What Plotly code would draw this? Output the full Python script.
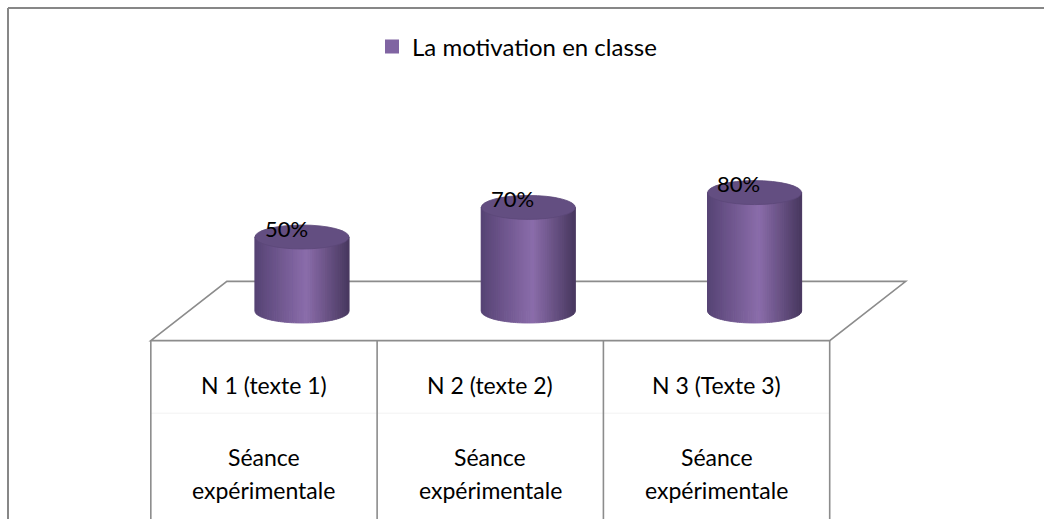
import numpy as np
import plotly.graph_objects as go

# ---------------- data ----------------
categories_line1 = ["N 1 (texte 1)", "N 2 (texte 2)", "N 3 (Texte 3)"]
categories_line2 = ["Séance", "Séance", "Séance"]
categories_line3 = ["expérimentale", "expérimentale", "expérimentale"]
values = [50, 70, 80]
labels = ["50%", "70%", "80%"]
series_name = "La motivation en classe"

# ---------------- style ----------------
FONT = "Lato, Carlito, Calibri, sans-serif"
GRID = "#8c8c8c"
HALF_W = 0.208      # cylinder half width (x units)
ELL_H = 8.1         # ellipse half height (y units)
DEPTH_X = 0.168     # perspective shift of floor front/back edges
DEPTH_Y = 20.0
N_STRIPS = 44

def shade(t):
    stops = [(0.0, (86, 67, 116)), (0.55, (139, 109, 171)), (1.0, (72, 56, 95))]
    for (t0, c0), (t1, c1) in zip(stops[:-1], stops[1:]):
        if t <= t1:
            f = (t - t0) / (t1 - t0)
            return "rgb(%d,%d,%d)" % tuple(round(a + (b - a) * f) for a, b in zip(c0, c1))
    return "rgb(%d,%d,%d)" % stops[-1][1]

fig = go.Figure()
n = len(values)
xs = list(range(n))

fig.add_trace(go.Bar(
    x=xs, y=values, width=2 * HALF_W, name=series_name,
    marker=dict(color="#8064A2", line=dict(width=0)),
    hoverinfo="skip", showlegend=False,
))
# legend entry (square swatch)
fig.add_trace(go.Scatter(
    x=[None], y=[None], mode="markers", name=series_name,
    marker=dict(symbol="square", size=14, color="#8064A2"),
    showlegend=True,
))

shapes = []
# floor parallelogram
fx0, fx1 = -0.5, n - 0.5
floor_path = (f"M {fx0 - DEPTH_X} {-DEPTH_Y} L {fx0 + DEPTH_X} {DEPTH_Y} "
              f"L {fx1 + DEPTH_X} {DEPTH_Y} L {fx1 - DEPTH_X} {-DEPTH_Y} Z")
shapes.append(dict(type="path", xref="x", yref="y", path=floor_path,
                   line=dict(color=GRID, width=1.6), fillcolor="rgba(0,0,0,0)", layer="below"))
# faint table row separator
shapes.append(dict(type="line", xref="x", yref="y", x0=fx0 - DEPTH_X, x1=fx1 - DEPTH_X,
                   y0=-69, y1=-69, line=dict(color="#f2f2f2", width=1), layer="below"))
# table vertical lines
for b in range(n + 1):
    xb = b - 0.5 - DEPTH_X
    shapes.append(dict(type="line", xref="x", yref="y", x0=xb, x1=xb, y0=-DEPTH_Y, y1=-200,
                       line=dict(color=GRID, width=1.6), layer="below"))

# cylinders
for i, v in enumerate(values):
    edges = np.linspace(i - HALF_W, i + HALF_W, N_STRIPS + 1)
    for k in range(N_STRIPS):
        a, b = edges[k], edges[k + 1]
        sub = np.linspace(a, b, 5)
        u = np.clip((sub - i) / HALF_W, -1, 1)
        bottom = -ELL_H * np.sqrt(1 - u ** 2)
        pts = [f"M {a} {v}", f"L {b} {v}"]
        for xx, yy in zip(sub[::-1], bottom[::-1]):
            pts.append(f"L {xx} {yy}")
        pts.append("Z")
        col = shade((k + 0.5) / N_STRIPS)
        shapes.append(dict(type="path", xref="x", yref="y", path=" ".join(pts),
                           fillcolor=col, line=dict(color=col, width=1.0), layer="above"))
    shapes.append(dict(type="circle", xref="x", yref="y",
                       x0=i - HALF_W, x1=i + HALF_W, y0=v - ELL_H, y1=v + ELL_H,
                       fillcolor="#634e81", line=dict(color="#5c4878", width=0.8), layer="above"))

# outer chart-area frame
shapes.append(dict(type="line", xref="paper", yref="paper", x0=8 / 1044, x1=1.0,
                   y0=1 - 8 / 519, y1=1 - 8 / 519, line=dict(color="#878787", width=2)))
shapes.append(dict(type="line", xref="paper", yref="paper", x0=8 / 1044, x1=8 / 1044,
                   y0=0, y1=1 - 8 / 519, line=dict(color="#878787", width=2)))

annotations = []
for i, v in enumerate(values):
    annotations.append(dict(x=i - 0.07, y=v + 6, xref="x", yref="y", text=labels[i],
                            showarrow=False, font=dict(family=FONT, size=22, color="#000000")))
    cx = i - DEPTH_X
    annotations.append(dict(x=cx, y=-50, xref="x", yref="y", text=categories_line1[i],
                            showarrow=False, font=dict(family=FONT, size=23, color="#000000")))
    annotations.append(dict(x=cx, y=-98.6, xref="x", yref="y", text=categories_line2[i],
                            showarrow=False, font=dict(family=FONT, size=23, color="#000000")))
    annotations.append(dict(x=cx, y=-121, xref="x", yref="y", text=categories_line3[i],
                            showarrow=False, font=dict(family=FONT, size=23, color="#000000")))

fig.update_layout(
    width=1044, height=519,
    margin=dict(l=0, r=0, t=0, b=0),
    paper_bgcolor="white", plot_bgcolor="white",
    xaxis=dict(range=[-1.3345, 3.279], visible=False, fixedrange=True),
    yaxis=dict(range=[-140.5, 210.1], visible=False, fixedrange=True),
    shapes=shapes, annotations=annotations,
    showlegend=True,
    legend=dict(x=372 / 1044, y=1 - 47 / 519, xanchor="left", yanchor="middle",
                font=dict(family=FONT, size=24, color="#000000"),
                bgcolor="rgba(0,0,0,0)", itemwidth=30),
    bargap=0,
)

fig.write_html("out.html", config={"displayModeBar": False},
               post_script="document.body.style.margin='0';")
